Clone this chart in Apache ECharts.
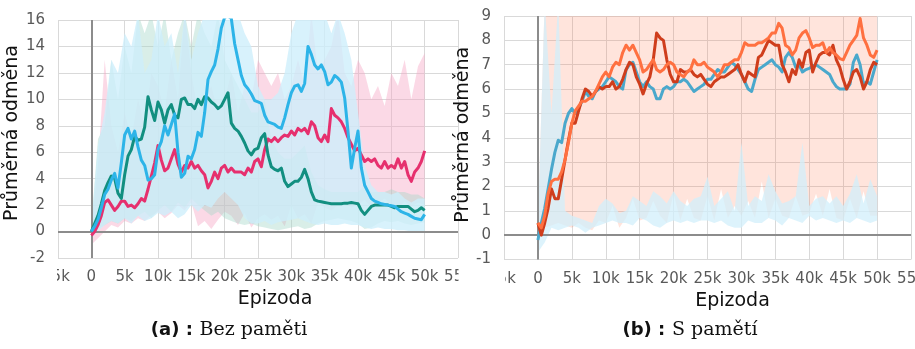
<!DOCTYPE html>
<html>
<head>
<meta charset="utf-8">
<script src="https://cdn.jsdelivr.net/npm/echarts@6/dist/echarts.min.js"></script>
<style>
  html, body { margin: 0; padding: 0; background: #fff; }
  #chart { width: 915px; height: 349px; }
</style>
</head>
<body>
<div id="chart"></div>
<script>
// Episode spacing of the running-average curves and of the min/max envelopes
const lineStep = 500;
const bandStep = 1000;

const xTickLabels = ['-5k', '0', '5k', '10k', '15k', '20k', '25k', '30k', '35k', '40k', '45k', '50k', '55k'];

// (a) Bez paměti — running average reward, one value per 500 episodes
const bezCyan = [
  0, 0.4, 0.9, 1.8, 2.8, 3.2, 3.9, 4.4, 3.3, 5.2,
  7.3, 7.8, 7.0, 7.6, 6.4, 5.4, 5.0, 3.9, 4.0, 4.3,
  6.2, 6.8, 8.0, 7.3, 8.1, 8.9, 6.0, 4.1, 4.4, 5.7,
  5.5, 6.2, 7.5, 7.2, 9.0, 11.5, 12.1, 12.6, 13.8, 15.4,
  16.2, 16.3, 16.1, 14.2, 13.0, 11.8, 11.1, 10.8, 10.4, 9.9,
  9.8, 9.7, 8.8, 8.3, 8.2, 8.1, 7.9, 7.8, 8.6, 9.6,
  10.5, 11.0, 11.1, 10.6, 11.2, 14.0, 13.4, 12.6, 12.3, 12.6,
  12.1, 11.1, 11.3, 11.8, 11.6, 11.3, 10.1, 7.6, 4.8, 6.3,
  7.6, 4.8, 3.5, 3.0, 2.5, 2.3, 2.2, 2.1, 2.05, 2.0,
  1.95, 1.9, 1.7, 1.5, 1.4, 1.3, 1.15, 1.0, 0.95, 0.9,
  1.3
];
const bezTeal = [
  0, 0.6, 1.2, 2.1, 3.1, 3.7, 4.2, 4.0, 2.9, 2.5,
  4.3, 5.7, 6.2, 7.2, 6.9, 7.0, 7.9, 10.2, 9.2, 8.4,
  9.8, 9.2, 8.2, 9.2, 9.6, 8.8, 8.6, 10.0, 10.1, 9.6,
  9.6, 9.3, 10.0, 9.6, 10.2, 10.1, 9.8, 9.6, 9.3, 9.5,
  10.0, 10.5, 8.2, 7.8, 7.6, 7.2, 6.7, 6.1, 5.8, 6.2,
  6.3, 7.1, 7.4, 5.8, 4.9, 4.7, 4.6, 4.8, 3.8, 3.4,
  3.6, 3.8, 3.8, 4.1, 4.7, 4.0, 3.0, 2.4, 2.3, 2.25,
  2.2, 2.15, 2.1, 2.1, 2.1, 2.1, 2.15, 2.15, 2.2, 2.15,
  2.1, 1.6, 1.3, 1.6, 1.9, 2.0, 2.0, 2.0, 2.0, 2.0,
  1.9, 1.8, 1.9, 1.9, 1.9, 1.9, 1.7, 1.5, 1.6, 1.8,
  1.6
];
const bezPink = [
  -0.3, 0, 0.5, 1.2, 2.2, 2.4, 2.0, 1.6, 1.9, 2.3,
  2.3, 1.9, 2.0, 1.8, 2.1, 2.5, 2.3, 3.2, 4.2, 5.2,
  6.5, 5.4, 4.6, 4.8, 5.5, 6.2, 5.1, 4.5, 5.0, 4.8,
  5.3, 4.8, 5.0, 4.6, 4.3, 3.3, 3.8, 4.5, 4.0, 4.8,
  5.0, 4.5, 4.8, 4.5, 4.5, 4.5, 4.3, 4.8, 4.5, 5.3,
  5.5, 4.9, 6.2, 7.0, 6.8, 7.1, 6.8, 7.1, 7.3, 7.2,
  7.6, 7.3, 7.8, 7.6, 7.8, 7.4, 8.3, 8.0, 7.1, 6.8,
  7.3, 6.8, 9.3, 8.8, 8.6, 8.3, 7.8, 7.1, 6.6, 6.1,
  6.3, 5.8, 5.3, 5.5, 5.3, 5.5, 5.0, 4.8, 5.3, 4.8,
  5.0, 4.8, 5.5, 4.8, 5.3, 4.3, 3.8, 4.5, 4.8, 5.3,
  6.1
];

// (a) min/max envelopes, one value per 1000 episodes
const bezCyanLo = [
  -0.5, 0, 0.5, 0.8, 0.6, 1.0, 0.6, 1.2, 0.8, 1.0,
  1.4, 1.2, 1.5, 1.0, 1.3, 2.0, 1.5, 2.0, 1.8, 2.5,
  3.0, 2.5, 2.0, 1.0, 0.6, 0.6, 0.8, 0.5, 0.7, 0.8,
  0.9, 1.0, 0.8, 0.6, 0.5, 0.6, 0.5, 0.5, 0.6, 0.5,
  0.5, 0.3, 0.2, 0.3, 0.2, 0.2, 0.1, 0.1, 0, -0.1,
  0
];
const bezCyanHi = [
  0.5, 6.5, 9, 13, 12, 15, 14, 16.5, 12, 13,
  16.5, 14, 15, 12, 16.5, 13, 15, 16.5, 16.5, 16.5,
  16.5, 16.5, 16.5, 15, 14, 11, 10, 10, 10.5, 12,
  15, 16.5, 16.5, 16.5, 16.5, 16.5, 15, 16.5, 15, 13,
  9, 5, 3.5, 3, 3, 2.8, 3, 2.5, 2.2, 2.5,
  2.5
];
const bezTealLo = [
  -0.3, 0.2, 0.5, 0.8, 0.6, 1.0, 0.8, 1.2, 1.5, 1.0,
  1.6, 2.0, 1.5, 2.2, 1.8, 2.5, 2.0, 1.6, 1.2, 1.5,
  1.0, 0.8, 0.6, 0.5, 0.6, 0.4, 0.3, 0.2, 0.1, 0.2,
  0.3, 0.4, 0.2, 0.3, 0.6, 0.8, 0.9, 1.0, 0.9, 0.8,
  0.6, 0.2, 0.3, 0.6, 0.8, 0.7, 0.8, 0.6, 0.5, 0.6,
  0.7
];
const bezTealHi = [
  0.5, 7, 8, 13, 10, 14, 12, 16.5, 15, 16.5,
  14, 16.5, 13, 15, 16.5, 14, 16.5, 15, 14, 16.5,
  13, 12, 11, 10, 9, 9, 10, 7, 6, 5.5,
  5.5, 6, 6.5, 4.5, 3.5, 3.2, 3, 3, 3, 3,
  3, 3.5, 3, 3, 3, 3.2, 3, 3, 2.8, 2.8,
  2.5
];
const bezPinkLo = [
  -1, -0.5, 0, 0.5, 0.3, 0.8, 0.6, 1.0, 0.8, 1.2,
  1.5, 1.0, 1.4, 2.0, 1.6, 2.2, 0.4, 0.8, 0.2, 0.9,
  1.5, 1.2, 0.5, 1.4, 0.3, 1.0, 1.3, 0.9, 1.2, 0.4,
  2.0, 1.0, 1.3, 0.6, 2.2, 1.8, 1.6, 2.0, 2.3, 1.8,
  2.0, 2.4, 1.8, 2.2, 2.5, 2.0, 1.7, 2.3, 1.9, 2.2,
  2.0
];
const bezPinkHi = [
  0.3, 5, 13, 8, 6, 9, 7, 10, 8, 12,
  11, 9, 13, 10, 16.5, 12, 9, 10, 11, 9,
  10, 12, 9, 11, 10, 13, 12, 11, 12, 10,
  11, 13, 11, 16.5, 12, 13, 14, 16.5, 12, 11,
  13, 12, 10, 11, 9.5, 12, 11, 13, 10, 12.5,
  13.5
];

// (b) S pamětí — running average reward, one value per 500 episodes
const memBlue = [
  -0.2, 0.5, 1.1, 1.9, 2.7, 3.4, 3.9, 3.8, 4.6, 5.0,
  5.2, 5.0, 5.2, 5.5, 5.9, 5.7, 5.6, 5.9, 6.0, 6.1,
  6.3, 6.5, 6.4, 6.3, 6.1, 6.0, 6.8, 7.0, 7.1, 6.7,
  6.3, 6.1, 6.3, 6.1, 6.0, 5.6, 5.6, 6.0, 6.1, 6.0,
  6.1, 6.3, 6.3, 6.4, 6.3, 6.1, 5.9, 6.0, 6.1, 6.2,
  6.4, 6.4, 6.6, 6.8, 6.7, 6.7, 6.9, 7.1, 7.0, 6.8,
  6.6, 6.3, 6.0, 5.9, 6.4, 6.8, 6.9, 7.0, 7.1, 7.2,
  7.0, 6.9, 6.7, 7.3, 7.5, 7.3, 6.9, 7.0, 6.7, 6.8,
  6.85, 6.95, 7.0, 6.9, 6.8, 6.7, 6.6, 6.3, 6.1, 6.0,
  6.0, 6.0, 6.2, 7.1, 7.4, 7.0, 6.2, 6.3, 6.2, 6.7,
  7.2
];
const memOrange = [
  0.5, 0.3, 0.8, 1.7, 2.2, 2.3, 2.3, 2.6, 3.1, 3.8,
  4.6, 5.1, 5.3, 5.5, 5.5, 5.6, 5.7, 5.9, 6.2, 6.5,
  6.7, 6.5, 6.9, 7.1, 7.0, 7.5, 7.8, 7.6, 7.8, 7.5,
  7.2, 6.7, 6.8, 7.0, 7.2, 6.8, 6.7, 6.8, 7.0, 7.1,
  7.0, 6.7, 6.6, 6.5, 6.7, 6.8, 7.2, 7.0, 7.0, 7.1,
  6.9, 6.8, 6.7, 6.5, 6.7, 7.0, 7.0, 7.1, 7.2, 7.2,
  7.5, 7.9, 7.8, 7.8, 7.8, 7.9, 7.9, 8.0, 8.1, 8.3,
  8.3, 8.7, 8.5, 7.8, 7.7, 7.4, 7.6, 8.1, 8.3, 8.4,
  8.1, 7.7, 7.8, 7.8, 7.9, 7.5, 7.7, 7.5, 7.4, 7.25,
  7.2, 7.5, 7.8, 8.0, 8.2, 8.9, 8.1, 7.8, 7.4, 7.3,
  7.6
];
const memRed = [
  0.5, 0, 0.5, 1.1, 1.9, 1.5, 1.5, 2.3, 3.1, 3.9,
  4.6, 4.6, 5.1, 5.6, 6.0, 5.9, 5.7, 5.9, 6.1, 6.0,
  6.1, 6.1, 6.3, 6.0, 6.1, 6.4, 6.8, 7.1, 7.0, 6.5,
  6.2, 5.8, 6.2, 6.5, 7.2, 8.3, 8.1, 8.0, 7.2, 6.6,
  6.3, 6.3, 6.8, 6.7, 6.7, 6.8, 6.6, 6.5, 6.6, 6.4,
  6.2, 6.1, 6.3, 6.4, 6.5, 6.5, 6.6, 6.7, 6.8, 7.0,
  6.6, 6.3, 6.7, 6.6, 6.5, 7.3, 7.4, 7.7, 8.0, 7.9,
  7.8, 7.8, 7.0, 6.7, 6.3, 6.8, 6.6, 7.2, 6.9, 7.5,
  7.6, 6.7, 7.1, 7.4, 7.5, 7.5, 7.4, 7.8, 7.2, 6.9,
  6.4, 6.0, 6.3, 6.7, 6.8, 6.5, 6.0, 6.3, 6.8, 7.1,
  7.0
];

// (b) min/max envelopes, one value per 1000 episodes
const memSalmonLo = [
  0, 0.3, 0.4, 0.5, 0.4, 0.3, 0.5, 0.3, 0.2, 0.6,
  0.5, 1.2, 0.3, 0.7, 1.5, 0.6, 0.7, 1.4, 0.8, 0.5,
  1.7, 0.6, 1.5, 0.7, 0.6, 1.6, 0.6, 1.9, 0.7, 1.2,
  0.8, 1.4, 0.7, 2.2, 0.7, 1.5, 0.8, 0.7, 1.6, 0.8,
  0.9, 1.7, 0.8, 1.9, 0.7, 0.6, 1.5, 0.7, 1.8, 0.8,
  0.8
];
const memSalmonHi = [
  0.5, 9.6, 9.6, 9.6, 9.6, 9.6, 9.6, 9.6, 9.6, 9.6,
  9.6, 9.6, 9.6, 9.6, 9.6, 9.6, 9.6, 9.6, 9.6, 9.6,
  9.6, 9.6, 9.6, 9.6, 9.6, 9.6, 9.6, 9.6, 9.6, 9.6,
  9.6, 9.6, 9.6, 9.6, 9.6, 9.6, 9.6, 9.6, 9.6, 9.6,
  9.6, 9.6, 9.6, 9.6, 9.6, 9.6, 9.6, 9.6, 9.6, 9.6,
  9.6
];
const memBlueLo = [
  -0.7, -0.3, 0.3, 0.2, 0.3, 0.4, 0.3, 0.1, 0.3, 0.4,
  0.5, 0.6, 0.5, 0.5, 0.4, 0.7, 0.6, 0.4, 0.3, 0.5,
  0.6, 0.5, 0.6, 0.5, 0.6, 0.6, 0.5, 0.6, 0.4, 0.3,
  0.3, 0.6, 0.5, 0.5, 0.7, 0.6, 0.4, 0.7, 0.6, 0.5,
  0.8, 0.6, 0.7, 0.6, 0.5, 0.6, 0.5, 0.7, 0.6, 0.5,
  0.6
];
const memBlueHi = [
  0.5, 9.6, 5, 9.6, 1, 0.8, 0.7, 0.6, 0.5, 1.2,
  1.5, 1.3, 0.9, 1.0, 1.6, 1.4, 1.2, 1.8, 1.6, 1.3,
  1.8, 1.4, 1.2, 1.5, 1.6, 2.4, 1.2, 1.5, 1.8, 1.0,
  3.8, 1.2, 1.6, 1.4, 2.5, 1.8, 1.3, 1.4, 1.6, 3.8,
  1.2, 1.5, 1.6, 1.3, 1.6, 1.2, 1.7, 2.5, 1.3, 2.3,
  1.6
];

const FONT = "'DejaVu Sans', Verdana, sans-serif";

function pairs(values, step) {
  return values.map((v, i) => [i * step, v]);
}

// Min/max envelope: one filled polygon from the lower edge forward and the upper edge back
function band(lo, hi, color, gi) {
  return {
    type: 'custom', xAxisIndex: gi, yAxisIndex: gi, silent: true, z: 2,
    data: lo.map((v, i) => [i * bandStep, v, hi[i]]),
    encode: { x: 0, y: [1, 2] },
    renderItem: function (params, api) {
      if (params.dataIndex !== 0) return null;
      const pts = [];
      for (let i = 0; i < lo.length; i++) pts.push(api.coord([i * bandStep, lo[i]]));
      for (let i = hi.length - 1; i >= 0; i--) pts.push(api.coord([i * bandStep, hi[i]]));
      const cs = params.coordSys;
      return {
        type: 'polygon',
        shape: { points: pts },
        style: { fill: color, stroke: null, lineWidth: 0 },
        clipPath: { type: 'rect', shape: { x: cs.x, y: cs.y, width: cs.width, height: cs.height } }
      };
    }
  };
}

function curve(values, color, gi) {
  return {
    type: 'line', xAxisIndex: gi, yAxisIndex: gi, data: pairs(values, lineStep),
    symbol: 'none', silent: true, z: 4,
    lineStyle: { color: color, width: 3, join: 'round' }
  };
}

function zeroLines(gi) {
  return {
    type: 'line', xAxisIndex: gi, yAxisIndex: gi, data: [], silent: true, z: 3,
    markLine: {
      silent: true, symbol: ['none', 'none'], animation: false, z: 3,
      label: { show: false },
      lineStyle: { color: '#8c8c8c', width: 2, type: 'solid' },
      data: [{ yAxis: 0 }, { xAxis: 0 }]
    }
  };
}

function xAxisCfg(gi, namePad) {
  return {
    type: 'value', gridIndex: gi, min: -5000, max: 55000, interval: 5000,
    axisLine: { show: false },
    axisTick: { show: true, length: 5, lineStyle: { color: '#d9d9d9' } },
    splitLine: { show: true, lineStyle: { color: '#d9d9d9', width: 1 } },
    axisLabel: {
      margin: 12, fontSize: 15, color: '#595959', fontFamily: FONT,
      formatter: v => xTickLabels[Math.round((v + 5000) / 5000)]
    },
    name: 'Epizoda', nameLocation: 'middle', nameGap: 25,
    nameTextStyle: { fontSize: 19, color: '#111', fontFamily: FONT, padding: namePad }
  };
}

function yAxisCfg(gi, min, max, interval, gap, namePad) {
  return {
    type: 'value', gridIndex: gi, min: min, max: max, interval: interval,
    axisLine: { show: false },
    axisTick: { show: true, length: 5, lineStyle: { color: '#d9d9d9' } },
    splitLine: { show: true, lineStyle: { color: '#d9d9d9', width: 1 } },
    axisLabel: { margin: 13, fontSize: 15, color: '#595959', fontFamily: FONT },
    name: 'Průměrná odměna', nameLocation: 'middle', nameGap: gap,
    nameTextStyle: { fontSize: 19, color: '#111', fontFamily: FONT, padding: namePad }
  };
}

function caption(x, tag, text) {
  return {
    type: 'text', x: x, y: 330, z: 100,
    style: {
      text: '{b|' + tag + '}  {r|' + text + '}',
      align: 'center', verticalAlign: 'middle',
      rich: {
        b: { fontFamily: FONT, fontWeight: 'bold', fontSize: 18, fill: '#111' },
        r: { fontFamily: "'DejaVu Serif', serif", fontSize: 19, fill: '#111' }
      }
    }
  };
}

const chart = echarts.init(document.getElementById('chart'), null, { renderer: 'canvas' });

chart.setOption({
  animation: false,
  backgroundColor: '#fff',
  grid: [
    { left: 58, top: 20, width: 400, height: 238, outerBoundsMode: 'none' },
    { left: 504, top: 16, width: 407, height: 243.5, outerBoundsMode: 'none' }
  ],
  xAxis: [xAxisCfg(0, [0, 0, 0, 34]), xAxisCfg(1, [0, 0, 0, 50])],
  yAxis: [yAxisCfg(0, -2, 16, 2, 26, [0, 0, 0, 12]), yAxisCfg(1, -1, 9, 1, 17, [0, 0, 0, 6])],
  series: [
    band(bezPinkLo, bezPinkHi, 'rgba(245,165,195,0.42)', 0),
    band(bezTealLo, bezTealHi, 'rgba(165,215,200,0.42)', 0),
    band(bezCyanLo, bezCyanHi, 'rgba(205,238,251,0.78)', 0),
    zeroLines(0),
    curve(bezPink, '#e6306e', 0),
    curve(bezTeal, '#128f80', 0),
    curve(bezCyan, '#2db4e8', 0),

    band(memSalmonLo, memSalmonHi, 'rgba(255,120,80,0.2)', 1),
    band(memBlueLo, memBlueHi, 'rgba(210,239,251,0.75)', 1),
    zeroLines(1),
    curve(memBlue, '#4aa8cc', 1),
    curve(memRed, '#cf3d1c', 1),
    curve(memOrange, '#ff7040', 1)
  ],
  graphic: [
    // the outermost tick labels are cut off at the panel edges
    { type: 'rect', z: 100, shape: { x: 20, y: 268, width: 37, height: 22 }, style: { fill: '#fff' } },
    { type: 'rect', z: 100, shape: { x: 458.5, y: 268, width: 46.5, height: 22 }, style: { fill: '#fff' } },
    caption(229, '(a) :', 'Bez paměti'),
    caption(690, '(b) :', 'S pamětí')
  ]
});
</script>
</body>
</html>
